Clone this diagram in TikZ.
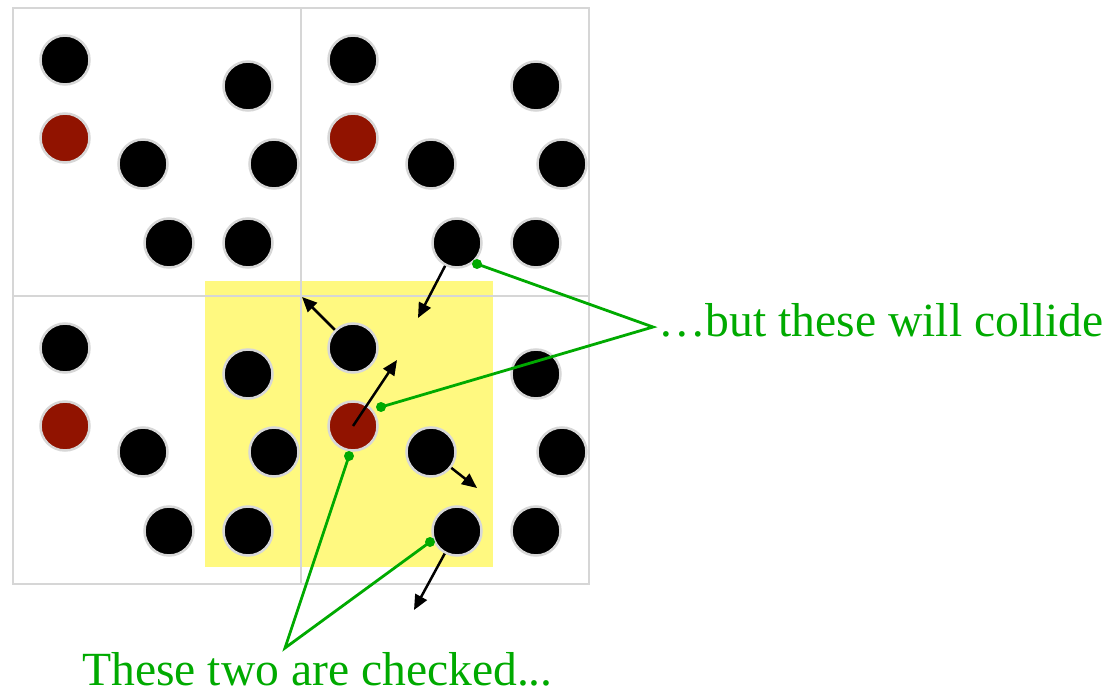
\documentclass[tikz,border=0pt]{standalone}
\usepackage{fontspec}
\setmainfont{Liberation Serif}
\usetikzlibrary{arrows.meta}
\definecolor{gridgrey}{RGB}{214,214,214}
\definecolor{ballrim}{RGB}{215,215,215}
\definecolor{hilite}{RGB}{255,249,128}
\definecolor{ballred}{RGB}{145,19,0}
\definecolor{notegreen}{RGB}{0,170,0}
\tikzset{
  ball/.style={circle, fill=black, draw=ballrim, line width=2.5pt, minimum size=49pt, inner sep=0pt},
  redball/.style={ball, fill=ballred},
  gridline/.style={draw=gridgrey, line width=2.5pt},
  arr/.style={line width=2.5pt, -{Triangle[length=15pt,width=13pt]}},
  gline/.style={draw=notegreen, line width=2.8pt},
  gdot/.style={fill=notegreen},
  note/.style={text=notegreen, inner sep=0pt, text depth=0pt, font=\fontsize{47.6}{56}\selectfont}
}
\begin{document}
\begin{tikzpicture}[x=1pt,y=-1pt]
\useasboundingbox (0,0) rectangle (1112,695);
% highlight
\fill[hilite] (205,281) rectangle (493,567);
% grid
\draw[gridline] (13,8) rectangle (589,584);
\draw[gridline] (301,8) -- (301,584);
\draw[gridline] (13,296) -- (589,296);
% arrow tips
\coordinate (t1) at (302,297);
\coordinate (t2) at (418,318);
\coordinate (t3) at (397,360);
\coordinate (t4) at (477,488);
\coordinate (t5) at (414,610);
% balls: top-left cell
\node[ball] (a1) at (65,60) {};
\node[redball] (a2) at (65,138) {};
\node[ball] (a3) at (248,86) {};
\node[ball] (a4) at (143,164) {};
\node[ball] (a5) at (274,164) {};
\node[ball] (a6) at (169,243) {};
\node[ball] (a7) at (248,243) {};
% top-right cell
\node[ball] (b1) at (353,60) {};
\node[redball] (b2) at (353,138) {};
\node[ball] (b3) at (536,86) {};
\node[ball] (b4) at (431,164) {};
\node[ball] (b5) at (562,164) {};
\node[ball] (b6) at (457,243) {};
\node[ball] (b7) at (536,243) {};
% bottom-left cell
\node[ball] (c1) at (65,348) {};
\node[redball] (c2) at (65,426) {};
\node[ball] (c3) at (248,374) {};
\node[ball] (c4) at (143,452) {};
\node[ball] (c5) at (274,452) {};
\node[ball] (c6) at (169,531) {};
\node[ball] (c7) at (248,531) {};
% bottom-right cell
\node[ball] (d1) at (353,348) {};
\node[redball] (d2) at (353,426) {};
\node[ball] (d3) at (536,374) {};
\node[ball] (d4) at (431,452) {};
\node[ball] (d5) at (562,452) {};
\node[ball] (d6) at (457,531) {};
\node[ball] (d7) at (536,531) {};
% velocity arrows
\draw[arr] (d1) -- (t1);
\draw[arr] (b6) -- (t2);
\draw[arr] (d2.center) -- (t3);
\draw[arr] (d4) -- (t4);
\draw[arr] (d6) -- (t5);
% annotation points
\coordinate (g1) at (477,264);
\coordinate (g2) at (381,407);
\coordinate (g3) at (349,456);
\coordinate (g4) at (430,542);
\coordinate (v1) at (653,327);
\coordinate (v2) at (285,648);
\draw[gline] (g1) -- (v1) -- (g2);
\draw[gline] (g3) -- (v2) -- (g4);
\fill[gdot] (g1) circle (5);
\fill[gdot] (g2) circle (5);
\fill[gdot] (g3) circle (5);
\fill[gdot] (g4) circle (5);
% labels
\node[note, anchor=base west] (collide) at (658,337) {…but these will collide};
\node[note, anchor=base west] (checked) at (82,685) {These two are checked...};
\end{tikzpicture}
\end{document}
